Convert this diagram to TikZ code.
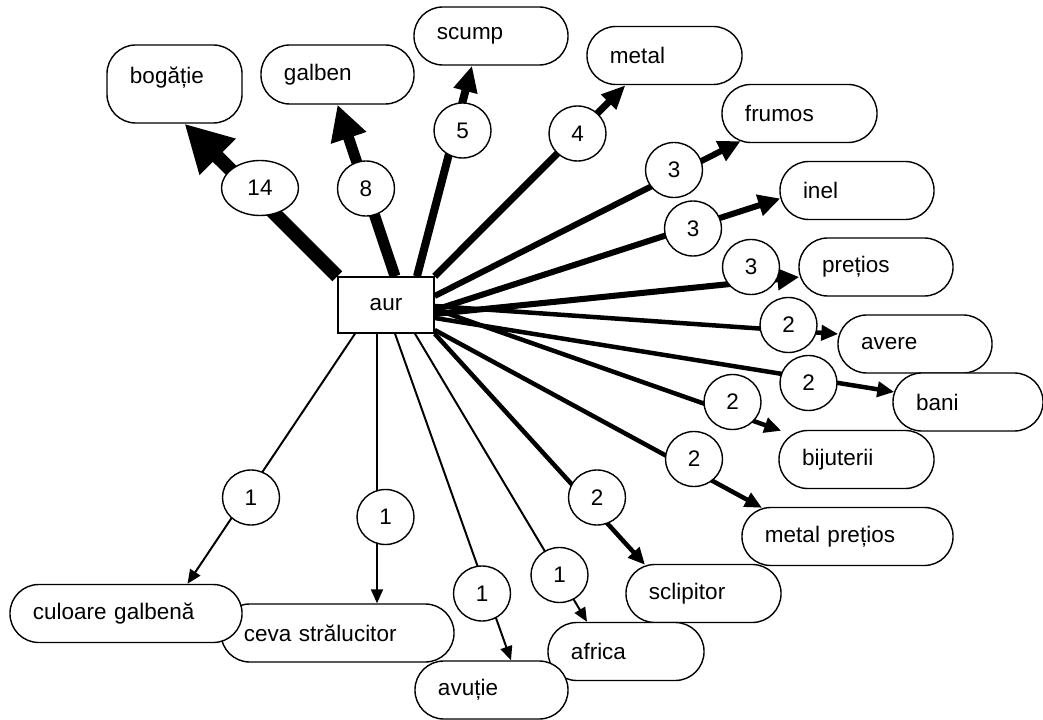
\documentclass[tikz,border=0pt]{standalone}
\usepackage{fontspec}
\setmainfont{Liberation Sans}
\usetikzlibrary{shapes.geometric, calc, arrows.meta}

\newcommand{\wordfont}{\fontsize{16}{19}\selectfont}

\tikzset{
  word/.style={draw, line width=1pt, fill=white, rounded corners=0.72cm, align=left,
    text width=2.7cm, inner xsep=0.575cm, inner ysep=0pt, minimum height=1.45cm, font=\wordfont},
  num/.style={ellipse, draw, line width=1pt, fill=white, minimum width=1.425cm,
    minimum height=1.375cm, inner sep=0pt, font=\wordfont},
  w14/.style={line width=9.9pt, -{Triangle[length=1.175cm,width=1.2cm]}},
  w8/.style={line width=7.8pt, -{Triangle[length=0.875cm,width=0.875cm]}},
  w5/.style={line width=5.7pt, -{Triangle[length=0.65cm,width=0.575cm]}},
  w4/.style={line width=5pt, -{Triangle[length=0.6cm,width=0.5cm]}},
  w3/.style={line width=4.3pt, -{Triangle[length=0.55cm,width=0.525cm]}},
  w2/.style={line width=3.2pt, -{Triangle[length=0.425cm,width=0.375cm]}},
  w1/.style={line width=1.4pt, -{Triangle[length=0.35cm,width=0.3cm]}}
}

\begin{document}
\begin{tikzpicture}[x=0.025cm, y=-0.025cm]
  \useasboundingbox (0,0) rectangle (1043,720);

  % the stimulus word
  \node[draw, line width=1pt, minimum width=2.4cm, minimum height=1.4cm, font=\wordfont] (aur) at (386,305) {aur};

  % the answers
  \node[word, text width=2.225cm, minimum height=1.95cm, text depth=0.45cm] (bogatie) at (174.5,84) {bogăție};
  \node[word, text width=2.675cm, minimum height=1.475cm] (galben) at (337.5,74.5) {galben};
  \node[word] (scump) at (491,36) {scump};
  \node[word, text width=2.725cm] (metal) at (664.5,55.5) {metal};
  \node[word, text width=2.725cm] (frumos) at (799.5,113.5) {frumos};
  \node[word] (inel) at (857,190.5) {inel};
  \node[word] (pretios) at (876,267) {prețios};
  \node[word] (avere) at (915,344) {avere};
  \node[word, text width=2.6cm] (bani) at (968,402) {bani};
  \node[word, text width=2.725cm] (bijuterii) at (856.5,459.5) {bijuterii};
  \node[word, text width=4.125cm] (metalpretios) at (847.5,536.5) {metal prețios};
  \node[word, text width=2.725cm] (sclipitor) at (703.5,593.5) {sclipitor};
  \node[word, text width=2.75cm] (africa) at (626,651.5) {africa};
  \node[word, text width=2.675cm] (avutie) at (491.5,690) {avuție};
  \node[word, text width=4.675cm] (ceva) at (337.5,633) {ceva strălucitor};
  \node[word, text width=4.65cm] (culoare) at (126,613.5) {culoare galbenă};

  % arrows, thicker for more answers
  \draw[w14] (aur.north west) -- ($(bogatie.south)+(10,0)$);
  \draw[w8] ($(aur.north)+(9,0)$) -- (galben.south);
  \draw[w5] ($(aur.north)+(31,0)$) -- ($(scump.south)+(-19,0)$);
  \draw[w4] (aur.north east) -- ($(metal.south)+(-39,0)$);
  \draw[w3] ($(aur.east)+(0,-9)$) -- ($(frumos.south)+(-59,-2)$);
  \draw[w3] ($(aur.east)+(0,5)$) -- ($(inel.west)+(1,8)$);
  \draw[w3] ($(aur.east)+(0,9)$) -- ($(pretios.west)+(1,10)$);
  \draw[w2] ($(aur.east)+(0,1)$) -- ($(avere.west)+(1,-10)$);
  \draw[w2] ($(aur.east)+(0,13)$) -- ($(bani.west)+(2,-10)$);
  \draw[w2] ($(aur.east)+(0,4)$) -- ($(bijuterii.north west)+(3,1)$);
  \draw[w2] ($(aur.east)+(0,25)$) -- ($(metalpretios.north)+(-85.5,1)$);
  \draw[w2] (aur.south east) -- ($(sclipitor.north)+(-58.5,1)$);
  \draw[w1] ($(aur.south)+(-31,0)$) -- ($(culoare.north)+(61.5,0)$);
  \draw[w1] ($(aur.south)+(-9,0)$) -- ($(ceva.north)+(39.5,0)$);
  \draw[w1] ($(aur.south)+(9,0)$) -- ($(avutie.north)+(19.5,0)$);
  \draw[w1] ($(aur.south)+(29,0)$) -- ($(africa.north)+(-39,0)$);

  % the counts
  \node[num, minimum width=1.925cm] (n-bogatie) at (260,188) {14};
  \node[num] (n-galben) at (366,188.5) {8};
  \node[num] (n-scump) at (462.5,130.5) {5};
  \node[num] (n-metal) at (577.5,133.5) {4};
  \node[num] (n-frumos) at (674,170) {3};
  \node[num] (n-inel) at (693,228.5) {3};
  \node[num] (n-pretios) at (751,267) {3};
  \node[num] (n-avere) at (788.5,325) {2};
  \node[num] (n-bani) at (808.5,383) {2};
  \node[num] (n-bijuterii) at (732.5,402) {2};
  \node[num] (n-metalpretios) at (694,459) {2};
  \node[num] (n-sclipitor) at (597,497.5) {2};
  \node[num] (n-culoare) at (251,497.5) {1};
  \node[num] (n-ceva) at (385.5,517) {1};
  \node[num] (n-avutie) at (482,593.5) {1};
  \node[num] (n-africa) at (559.5,575) {1};
\end{tikzpicture}
\end{document}
